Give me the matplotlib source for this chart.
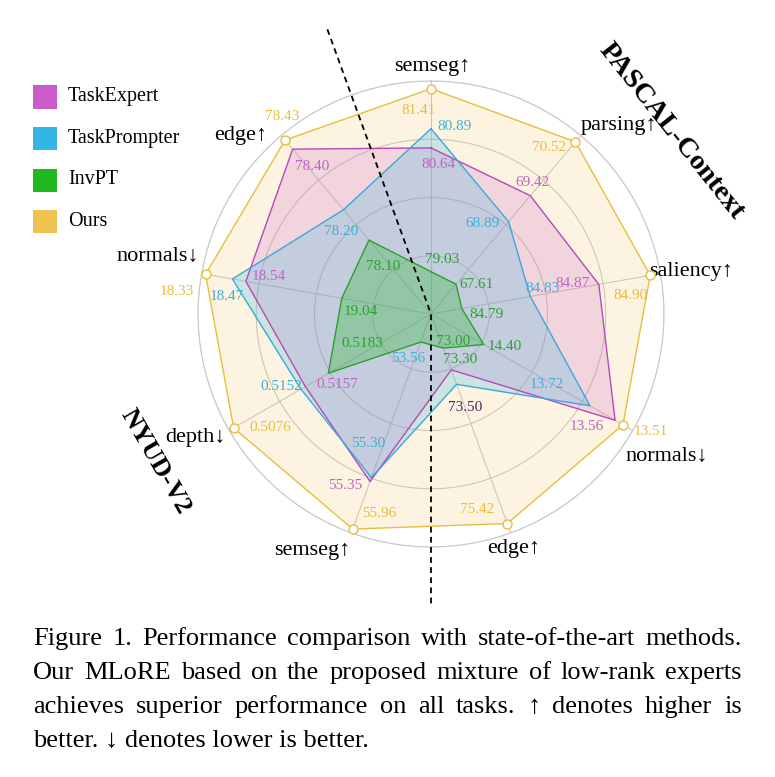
import numpy as np
import matplotlib
matplotlib.use("Agg")
import matplotlib.pyplot as plt
from matplotlib.patches import Rectangle

# ── Data ──────────────────────────────────────────────────────────────────────

AXES = ["semseg↑", "parsing↑", "saliency↑", "normals↓", "edge↑",
        "semseg↑", "depth↓", "normals↓", "edge↑"]

METHODS = ["TaskExpert", "TaskPrompter", "InvPT", "Ours"]

TASK_EXPERT   = [80.64, 69.42, 84.87, 13.56, 73.30, 55.35, 0.5157, 18.54, 78.40]
TASK_PROMPTER = [80.89, 68.89, 84.83, 13.72, 73.50, 55.30, 0.5152, 18.47, 78.20]
INVPT         = [79.03, 67.61, 84.79, 14.40, 73.00, 53.56, 0.5183, 19.04, 78.10]
OURS          = [81.41, 70.52, 84.90, 13.51, 75.42, 55.96, 0.5076, 18.33, 78.43]

# per-axis scale: value at the centre and value at the outer ring
AXIS_LO = [78.48, 67.00, 84.772, 14.738, 72.53, 53.20, 0.5299, 19.505, 77.856]
AXIS_HI = [81.51, 70.65, 84.906, 13.447, 75.55, 56.01, 0.5071, 18.309, 78.445]

# ── Style ─────────────────────────────────────────────────────────────────────

SERIF = ["Liberation Serif", "DejaVu Serif"]
plt.rcParams["font.family"] = SERIF

LEGEND_COLORS = {"TaskExpert": "#CC5CCC", "TaskPrompter": "#33B5E5",
                 "InvPT": "#22B822", "Ours": "#EFC350"}
LINE_COLORS = {"TaskExpert": "#B848B8", "TaskPrompter": "#3AA8D8",
               "InvPT": "#2E9E2E", "Ours": "#E8BE3C"}
FILL_ALPHA = {"TaskExpert": 0.20, "TaskPrompter": 0.24, "InvPT": 0.30, "Ours": 0.17}
LABEL_COLORS = {"TaskExpert": "#C262C2", "TaskPrompter": "#3EAFD8",
                "InvPT": "#2EA02E", "Ours": "#E9BD3A"}

# label offsets from vertex, pixels (right, down)
LABEL_OFFSETS = {
    "Ours": [(-12, 22), (-26, 6), (-20, 20), (28, 7), (-30, -14),
             (26, -16), (37, 0), (-29, 17), (-3, -24)],
    "TaskExpert": [(8, 17), (2, -13), (-26, -1), (-28, 6), (9, -10),
                   (-25, 4), (32, -2), (23, -5), (19, 17)],
    "TaskPrompter": [(23, -2), (-26, 2), (12, -8), (-43, -21), (9, 23),
                     (-3, -34), (-20, -3), (-6, 18), (-2, 22)],
    "InvPT": [(11, -12), (20, 0), (25, 6), (21, 2), (10, -7),
              (-13, 16), (34, -30), (19, 13), (14, 26)],
}
# a few labels in the original carry another colour
LABEL_OVERRIDES = {("TaskExpert", 4): "#2EA02E",
                   ("TaskPrompter", 4): "#4A2563",
                   ("InvPT", 5): "#3EAFD8"}

# axis-name offsets from the outer ring, pixels (right, down)
AXIS_LABEL_OFFSETS = [(1, -15), (38, -10), (31, -2), (34, 26), (3, 16),
                      (-39, 18), (-34, 7), (-44, -17), (-41, 0)]

W, H = 775, 777
CX, CY, R = 431, 314, 233


def fig_xy(x, y):
    return x / W, 1 - y / H


def to_r(vals):
    return [(v - lo) / (hi - lo) for v, lo, hi in zip(vals, AXIS_LO, AXIS_HI)]


def fmt(v):
    return f"{v:.4f}" if v < 1 else f"{v:.2f}"


def justified(fig, text, x0, x1, y, size, justify=True):
    renderer = fig.canvas.get_renderer()
    if not justify:
        fig.text(x0 / W, 1 - y / H, text, fontsize=size, va="baseline")
        return
    words = text.split(" ")
    objs = [fig.text(0, 1 - y / H, w, fontsize=size, va="baseline") for w in words]
    widths = [o.get_window_extent(renderer).width for o in objs]
    gap = ((x1 - x0) - sum(widths)) / (len(words) - 1)
    x = x0
    for o, w in zip(objs, widths):
        o.set_x(x / W)
        x += w + gap


# ── Chart ─────────────────────────────────────────────────────────────────────

fig = plt.figure(figsize=(W / 100, H / 100), dpi=100)
fig.patch.set_facecolor("white")

ax = fig.add_axes([(CX - R) / W, (H - CY - R) / H, 2 * R / W, 2 * R / H],
                  projection="polar")
ax.set_theta_offset(np.pi / 2)
ax.set_theta_direction(-1)
theta = np.deg2rad(np.arange(len(AXES)) * 40)
ax.set_xticks(theta)
ax.set_xticklabels([])
ax.set_yticks([0.25, 0.5, 0.75, 1.0])
ax.set_yticklabels([])
ax.set_ylim(0, 1)
ax.grid(color="#C9C9C9", linewidth=0.8)
ax.spines["polar"].set_color("#C9C9C9")
ax.spines["polar"].set_linewidth(0.8)

series = {"TaskExpert": TASK_EXPERT, "TaskPrompter": TASK_PROMPTER,
          "InvPT": INVPT, "Ours": OURS}

th_closed = np.append(theta, theta[0])
for name in ["Ours", "TaskExpert", "TaskPrompter", "InvPT"]:
    r = to_r(series[name])
    r_closed = r + r[:1]
    ax.fill(th_closed, r_closed, color=LEGEND_COLORS[name],
            alpha=FILL_ALPHA[name], linewidth=0, zorder=2)
    ax.plot(th_closed, r_closed, color=LINE_COLORS[name], linewidth=1.0, zorder=3)

r_ours = to_r(OURS)
ax.plot(theta, r_ours, "o", ms=6.5, mfc="white", mec=LINE_COLORS["Ours"],
        mew=1.0, zorder=5, clip_on=False)

# value labels
for name in METHODS:
    r = to_r(series[name])
    for i, (t, rv, v) in enumerate(zip(theta, r, series[name])):
        dx, dy = LABEL_OFFSETS[name][i]
        color = LABEL_OVERRIDES.get((name, i), LABEL_COLORS[name])
        ax.annotate(fmt(v), xy=(t, rv), xytext=(dx, -dy),
                    textcoords="offset pixels", ha="center", va="center",
                    fontsize=11, color=color, zorder=6,
                    annotation_clip=False)

# axis names
for t, label, (dx, dy) in zip(theta, AXES, AXIS_LABEL_OFFSETS):
    ax.annotate(label, xy=(t, 1.0), xytext=(dx, -dy),
                textcoords="offset pixels", ha="center", va="center",
                fontsize=16, color="black", annotation_clip=False)

# dataset separator
ax.plot([np.deg2rad(340), 0, np.pi], [1.30, 0, 1.249], color="black",
        linestyle=(0, (3.2, 2.4)), linewidth=1.3, zorder=7, clip_on=False)

# dataset names
fig.text(*fig_xy(671, 131), "PASCAL-Context", rotation=-51.5,
         rotation_mode="anchor", ha="center", va="center",
         fontsize=20.5, fontweight="bold")
fig.text(*fig_xy(155, 462), "NYUD-V2", rotation=-60,
         rotation_mode="anchor", ha="center", va="center",
         fontsize=19, fontweight="bold")

# legend
for k, name in enumerate(METHODS):
    yc = 97 + k * 41.5
    x0, y0 = fig_xy(33, yc + 11.5)
    fig.add_artist(Rectangle((x0, y0), 24 / W, 23 / H, transform=fig.transFigure,
                             facecolor=LEGEND_COLORS[name], edgecolor="none"))
    fig.text(*fig_xy(68, yc), name, fontsize=14.5, va="center", ha="left")

# caption
CAPTION = [
    "Figure 1. Performance comparison with state-of-the-art methods.",
    "Our MLoRE based on the proposed mixture of low-rank experts",
    "achieves superior performance on all tasks. ↑ denotes higher is",
    "better. ↓ denotes lower is better.",
]
for k, line in enumerate(CAPTION):
    justified(fig, line, 33, 742, 645 + k * 34, 19, justify=k < len(CAPTION) - 1)

fig.savefig("out.png", dpi=100, facecolor="white")
